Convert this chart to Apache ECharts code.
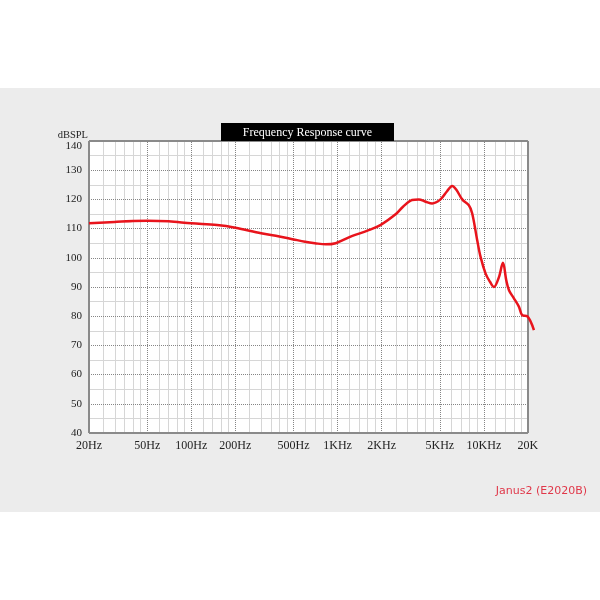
<!DOCTYPE html>
<html>
<head>
<meta charset="utf-8">
<script src="https://cdn.jsdelivr.net/npm/echarts@6/dist/echarts.min.js"></script>
<style>
html,body{margin:0;padding:0;background:#fff;}
#chart{width:600px;height:600px;}
</style>
</head>
<body>
<div id="chart"></div>
<script>
// Frequency response (Hz -> dB SPL)
const freqs = [20, 30, 40, 50, 70, 100, 150, 200, 300, 400, 500, 600, 700, 830, 970, 1250, 1600, 1960, 2490, 2800, 3230, 3590, 4000, 4430, 5050, 5600, 6070, 6500, 7110, 7890, 8320, 9000, 9490, 10270, 11000, 11700, 12670, 13500, 14220, 14840, 16000, 17370, 18290, 19780, 21980];
const levels = [111.8, 112.3, 112.6, 112.7, 112.5, 111.8, 111.2, 110.3, 108.4, 107.3, 106.3, 105.5, 105.0, 104.6, 105.0, 107.4, 109.3, 111.2, 114.9, 117.5, 119.8, 120.0, 119.2, 118.6, 120.0, 122.8, 124.6, 123.2, 120.0, 118.0, 115.2, 106.0, 100.3, 94.6, 91.8, 90.0, 93.4, 98.3, 92.3, 88.9, 86.2, 83.2, 80.3, 80.0, 75.2];

// Axis tick labels and grid
const xTickValues = [20, 50, 100, 200, 500, 1000, 2000, 5000, 10000, 20000];
const xTickLabels = ['20Hz', '50Hz', '100Hz', '200Hz', '500Hz', '1KHz', '2KHz', '5KHz', '10KHz', '20K'];
const majorGridFreqs = [50, 100, 200, 500, 1000, 2000, 5000, 10000];
const minorGridFreqs = [25, 30, 35, 40, 45, 60, 70, 80, 90, 120, 140, 160, 180, 250, 300, 350, 400, 450, 600, 700, 800, 900, 1200, 1400, 1600, 1800, 2500, 3000, 3500, 4000, 4500, 6000, 7000, 8000, 9000, 12000, 14000, 16000, 18000];
const majorGridLevels = [50, 60, 70, 80, 90, 100, 110, 120, 130];
const minorGridLevels = [45, 55, 65, 75, 85, 95, 105, 115, 125, 135];
const yMin = 40, yMax = 140, yStep = 10;
const fMin = 20, fMax = 20000, fAxisEnd = 22000; // curve runs a little past the 20K frame

const titleText = 'Frequency Response curve';
const modelText = 'Janus2 (E2020B)';
const yName = 'dBSPL';

const serif = '"Liberation Serif", "DejaVu Serif", serif';

const chart = echarts.init(document.getElementById('chart'), null, {renderer: 'canvas'});

const curve = freqs.map((f, i) => [f, levels[i]]);

function hSeg(v) { return [{ coord: [fMin, v] }, { coord: [fMax, v] }]; }
function vSeg(f) { return [{ coord: [f, yMin] }, { coord: [f, yMax] }]; }

const option = {
  backgroundColor: '#ffffff',
  animation: false,
  graphic: [
    { type: 'rect', z: -10, shape: { x: 0, y: 88, width: 600, height: 424 }, style: { fill: '#ececec' } },
    { type: 'rect', z: 10, shape: { x: 221, y: 123, width: 173, height: 18 }, style: { fill: '#000000' } },
    { type: 'text', z: 11, x: 307.5, y: 132.5, style: { text: titleText, fill: '#ffffff', font: '12px ' + serif, textAlign: 'center', textVerticalAlign: 'middle' } },
    { type: 'text', z: 11, x: 587, y: 491, style: { text: modelText, fill: '#e0384a', font: '11px "DejaVu Sans", sans-serif', textAlign: 'right', textVerticalAlign: 'middle' } }
  ],
  grid: {
    left: 89, right: 66, top: 141, bottom: 167,
    show: false
  },
  xAxis: {
    type: 'log',
    logBase: 10,
    min: fMin,
    max: fAxisEnd,
    axisLine: { show: false },
    axisTick: { show: false },
    splitLine: { show: false },
    axisLabel: {
      customValues: xTickValues,
      margin: 7,
      color: '#222',
      fontFamily: serif,
      fontSize: 12,
      showMinLabel: true,
      showMaxLabel: true,
      formatter: function (v) {
        const idx = xTickValues.findIndex(t => Math.abs(t - v) / t < 1e-6);
        return idx >= 0 ? xTickLabels[idx] : '';
      }
    }
  },
  yAxis: {
    type: 'value',
    min: yMin,
    max: yMax,
    interval: yStep,
    name: yName,
    nameLocation: 'end',
    nameGap: 4,
    nameTextStyle: { color: '#222', fontFamily: serif, fontSize: 10.5, align: 'right', verticalAlign: 'middle', padding: [10, 1, 0, 0] },
    axisLine: { show: false },
    axisTick: { show: false },
    axisLabel: {
      margin: 7, color: '#222', fontFamily: serif, fontSize: 11,
      formatter: function (v) { return v === yMax ? '{top|' + v + '}' : String(v); },
      rich: { top: { fontFamily: serif, fontSize: 11, color: '#222', padding: [11, 0, 0, 0] } }
    },
    splitLine: { show: false }
  },
  series: [
    {
      name: 'plot-bg',
      type: 'line',
      data: [],
      z: 0,
      silent: true,
      markArea: {
        silent: true,
        animation: false,
        itemStyle: { color: '#ffffff' },
        data: [[{ coord: [fMin, yMin] }, { coord: [fMax, yMax] }]]
      }
    },
    {
      name: 'grid-minor',
      type: 'line',
      data: [],
      z: 1,
      silent: true,
      markLine: {
        silent: true,
        animation: false,
        symbol: ['none', 'none'],
        label: { show: false },
        lineStyle: { color: '#d6d6d6', type: 'solid', width: 1 },
        data: minorGridFreqs.map(vSeg).concat(minorGridLevels.map(hSeg))
      }
    },
    {
      name: 'grid-major',
      type: 'line',
      data: [],
      z: 2,
      silent: true,
      markLine: {
        silent: true,
        animation: false,
        symbol: ['none', 'none'],
        label: { show: false },
        lineStyle: { color: '#858585', type: 'dotted', width: 1 },
        data: majorGridFreqs.map(vSeg).concat(majorGridLevels.map(hSeg))
      }
    },
    {
      name: 'frame',
      type: 'line',
      data: [],
      z: 3,
      silent: true,
      markLine: {
        silent: true,
        animation: false,
        symbol: ['none', 'none'],
        label: { show: false },
        lineStyle: { color: '#8a8a8a', type: 'solid', width: 2 },
        data: [vSeg(fMin), vSeg(fMax), hSeg(yMin), hSeg(yMax)]
      }
    },
    {
      name: 'response',
      type: 'line',
      data: curve,
      z: 5,
      clip: false,
      smooth: 0.35,
      showSymbol: false,
      symbol: 'none',
      lineStyle: { color: '#e8141c', width: 2.5 }
    }
  ]
};

chart.setOption(option);
</script>
</body>
</html>
